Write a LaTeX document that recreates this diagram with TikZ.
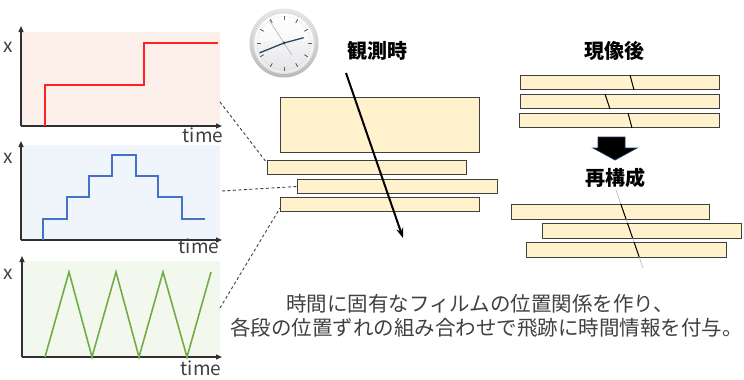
\documentclass[tikz,border=0pt]{standalone}
\usepackage{fontspec}
\setmainfont{Noto Sans CJK JP}
\usetikzlibrary{arrows.meta,calc}

\definecolor{filmfill}{HTML}{FFF2CC}
\definecolor{filmedge}{HTML}{404040}
\definecolor{pinkbg}{HTML}{FDF0EA}
\definecolor{bluebg}{HTML}{F0F4FB}
\definecolor{greenbg}{HTML}{F3F8EE}
\definecolor{plotred}{HTML}{FF2424}
\definecolor{plotblue}{HTML}{4472C4}
\definecolor{plotgreen}{HTML}{70AD47}
\definecolor{txtgray}{HTML}{404040}
\definecolor{axisgray}{HTML}{303030}
\definecolor{handcol}{HTML}{2E4756}
\definecolor{tickcol}{HTML}{4F6576}
\definecolor{arrowedge}{HTML}{1F3864}

\tikzset{
  film/.style={draw=filmedge, fill=filmfill, line width=1pt, inner sep=0pt,
    anchor=north west, minimum height=14pt},
  plotbg/.style={draw=none, inner sep=0pt, anchor=north west,
    minimum width=198pt, minimum height=95pt},
  axis/.style={draw=axisgray, line width=1.3pt, -{Triangle[length=6pt,width=5pt]}},
  curve/.style={line width=1.6pt, line join=miter},
  link/.style={draw=txtgray, line width=0.9pt, dash pattern=on 3pt off 2.5pt},
  axislabel/.style={font=\fontsize{19}{22}\selectfont, text=txtgray, inner sep=0pt},
  heading/.style={font=\fontsize{20}{23}\selectfont\bfseries, inner sep=0pt},
  caption/.style={font=\fontsize{20.5}{24}\selectfont, text=txtgray, inner sep=0pt, anchor=west},
  slash/.style={draw=black, line width=1pt}
}

\begin{document}
\begin{tikzpicture}[x=1pt, y=-1pt]
\useasboundingbox (0,0) rectangle (744,380);

% ---------- x(t) plots ----------
\node[plotbg, fill=pinkbg] (p1) at (22,32) {};
\node[plotbg, fill=bluebg] (p2) at (22,145) {};
\node[plotbg, fill=greenbg] (p3) at (22,261) {};

\coordinate (o1) at (21,126);
\coordinate (o2) at (21,240);
\coordinate (o3) at (22,357);
\draw[axis] (o1) -- (21,26);
\draw[axis] (o1) -- (222,126);
\draw[axis] (o2) -- (21,141);
\draw[axis] (o2) -- (222,240);
\draw[axis] (o3) -- (22,256);
\draw[axis] (o3) -- (222,357);

\node[axislabel] (x1) at (8.5,47) {x};
\node[axislabel] (x2) at (8.5,158) {x};
\node[axislabel] (x3) at (8.5,274) {x};
\node[axislabel] (t1) at (203,135) {time};
\node[axislabel] (t2) at (199,246) {time};
\node[axislabel] (t3) at (201,368) {time};

% single step profile
\draw[curve, plotred] (45,126) -- (45,85) -- (144,85) -- (144,43) -- (218,43);
% staircase up and down
\draw[curve, plotblue] (43,240) -- (43,219) -- (67,219) -- (67,197) -- (89,197)
  -- (89,176) -- (112,176) -- (112,155) -- (136,155) -- (136,176) -- (158,176)
  -- (158,197) -- (182,197) -- (182,219) -- (205,219);
% triangular oscillation
\draw[curve, plotgreen] (45,357) -- (69,272) -- (92,357) -- (116,272) -- (139,357)
  -- (163,272) -- (187,357) -- (211,272);

% ---------- films at observation time ----------
\node[film, minimum width=199pt, minimum height=55pt] (big) at (280,97) {};
\node[film, minimum width=199pt] (s1) at (267,160) {};
\node[film, minimum width=200pt] (s2) at (297,179) {};
\node[film, minimum width=199pt] (s3) at (280,197) {};

\coordinate (l1) at (220,102);
\coordinate (l2) at (222,191);
\coordinate (l3) at (220,308);
\draw[link] (l1) -- ($(s1.north west)+(0,3)$);
\draw[link] (l2) -- (s2.west);
\draw[link] (l3) -- ($(s3.south west)+(0,-4)$);

\node[heading] (tobs) at (377,51) {観測時};
\coordinate (trk0) at (346,73);
\coordinate (trk1) at (403,238);
\draw[line width=2pt, -{Stealth[length=10pt,width=7pt]}] (trk0) -- (trk1);

% ---------- clock ----------
\begin{scope}[shift={(284,43)}, x=1pt, y=1pt]
  \shade[top color=gray!18, bottom color=gray!55] (0,0) circle (34.5pt);
  \shade[inner color=white, outer color=gray!25!white] (0,0) circle (31pt);
  \fill[white] (0,0) circle (29.5pt);
  \shade[top color=white, bottom color=blue!8!gray!18] (0,0) circle (29pt);
  \begin{scope}
    \clip (0,0) circle (29pt);
    \fill[white, opacity=0.55] (-30,30) -- (-30,-2) .. controls (-5,8) and (15,-2) .. (30,4) -- (30,30) -- cycle;
  \end{scope}
  \foreach \m in {0,6,...,354}
    \fill[gray!55] (\m:26.5) circle (0.35pt);
  \foreach \h in {0,30,...,330}
    \draw[tickcol, line width=0.9pt] (\h:23.5) -- (\h:27.5);
  \draw[gray!60, line width=0.6pt] (-57:14) -- (123:27);
  \draw[handcol, line width=1.3pt, line cap=round] (0,0) -- (202:26);
  \draw[handcol, line width=1.3pt, line cap=round] (0,0) -- (15:20);
  \fill[handcol] (0,0) circle (1.6pt);
\end{scope}

% ---------- films after development ----------
\node[heading] (tdev) at (614,51) {現像後};
\node[film, minimum width=199pt] (r1) at (520,75) {};
\node[film, minimum width=199pt] (r2) at (520,94) {};
\node[film, minimum width=200pt] (r3) at (519,113) {};
\draw[slash] ($(r1.north west)+(110,0)$) -- ($(r1.south west)+(114,0)$);
\draw[slash] ($(r2.north west)+(85,0)$) -- ($(r2.south west)+(90,0)$);
\draw[slash] ($(r3.north west)+(109,0)$) -- ($(r3.south west)+(113,0)$);

% block arrow
\filldraw[fill=black, draw=arrowedge, line width=0.8pt, line join=miter]
  (598,137) -- (625,137) -- (625,148) -- (637,148) -- (615,160) -- (593,148)
  -- (598,148) -- cycle;

% ---------- reconstruction ----------
\node[heading] (trec) at (615,178) {再構成};
\node[film, minimum width=198pt, minimum height=15pt] (c1) at (511,204) {};
\node[film, minimum width=199pt, minimum height=15pt] (c2) at (542,223) {};
\node[film, minimum width=200pt, minimum height=15pt] (c3) at (526,242) {};
\coordinate (fit0) at (616,190);
\coordinate (fit1) at (643,268);
\draw[gray!70, line width=0.5pt] (fit0) -- (fit1);
\draw[slash] (620.8,204) -- (626,219);
\draw[slash] (627.4,223) -- (632.6,238);
\draw[slash] (634,242) -- (639.2,257);

% ---------- caption ----------
\node[caption] (cap1) at (286,304) {時間に固有なフィルムの位置関係を作り、};
\node[caption] (cap2) at (230,328) {各段の位置ずれの組み合わせで飛跡に時間情報を付与。};

\end{tikzpicture}
\end{document}
